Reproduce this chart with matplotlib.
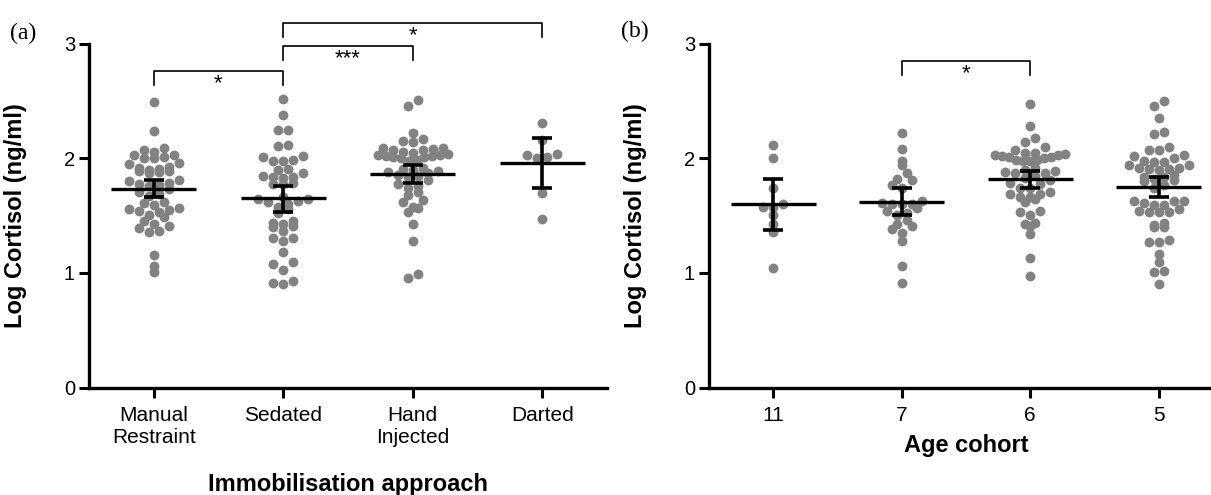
import matplotlib
matplotlib.use("Agg")
import matplotlib.pyplot as plt

# values (log cortisol, ng/ml)
approaches = ["Manual\nRestraint", "Sedated", "Hand\nInjected", "Darted"]
manual = [2.49, 2.24, 2.09, 2.07, 2.06, 2.03, 2.03, 2.01, 2.00, 2.00,
          1.96, 1.95, 1.93, 1.92, 1.91, 1.90, 1.89, 1.89, 1.88, 1.87,
          1.81, 1.80, 1.79, 1.78, 1.77, 1.76, 1.73, 1.71, 1.69, 1.67,
          1.62, 1.61, 1.59, 1.57, 1.56, 1.55, 1.54, 1.53, 1.51, 1.49,
          1.45, 1.43, 1.41, 1.39, 1.37, 1.36, 1.16, 1.06, 1.01]
sedated = [2.52, 2.38, 2.25, 2.25, 2.12, 2.11, 2.02, 2.01, 1.99, 1.98,
           1.98, 1.91, 1.90, 1.87, 1.85, 1.84, 1.84, 1.83, 1.79, 1.78,
           1.78, 1.66, 1.65, 1.65, 1.63, 1.62, 1.60, 1.58, 1.56, 1.52,
           1.45, 1.44, 1.43, 1.41, 1.40, 1.37, 1.31, 1.31, 1.28, 1.18,
           1.10, 1.08, 1.03, 0.93, 0.91, 0.90]
hand = [2.51, 2.46, 2.22, 2.17, 2.15, 2.14, 2.09, 2.09, 2.08, 2.07,
        2.07, 2.06, 2.05, 2.04, 2.03, 2.03, 2.02, 2.02, 2.01, 2.01,
        2.00, 1.99, 1.98, 1.92, 1.91, 1.90, 1.89, 1.88, 1.87, 1.86,
        1.85, 1.84, 1.81, 1.78, 1.76, 1.74, 1.71, 1.68, 1.64, 1.62,
        1.58, 1.57, 1.53, 1.43, 1.28, 0.99, 0.96]
darted = [2.31, 2.16, 2.03, 2.04, 2.00, 2.01, 1.70, 1.47]
approach_mean = [1.735, 1.655, 1.867, 1.964]
approach_lo = [1.66, 1.53, 1.79, 1.74]
approach_hi = [1.81, 1.76, 1.94, 2.18]
approach_sig = [(0, 1, "*"), (1, 2, "***"), (1, 3, "*")]

cohorts = ["11", "7", "6", "5"]
cohort11 = [2.12, 2.00, 1.74, 1.60, 1.58, 1.58, 1.51, 1.43, 1.36, 1.04]
cohort7 = [2.22, 2.08, 1.98, 1.94, 1.87, 1.82, 1.81, 1.77, 1.74, 1.63,
           1.61, 1.60, 1.60, 1.60, 1.57, 1.54, 1.52, 1.51, 1.46, 1.43,
           1.41, 1.38, 1.35, 1.28, 1.06, 0.91]
cohort6 = [2.48, 2.28, 2.18, 2.14, 2.10, 2.07, 2.05, 2.04, 2.03, 2.02,
           2.01, 2.00, 1.99, 1.98, 1.98, 1.99, 2.01, 2.03, 2.05, 1.92,
           1.90, 1.89, 1.88, 1.87, 1.87, 1.85, 1.83, 1.81, 1.79, 1.78,
           1.74, 1.74, 1.71, 1.69, 1.69, 1.66, 1.66, 1.65, 1.62, 1.54,
           1.53, 1.51, 1.44, 1.43, 1.41, 1.34, 1.13, 0.97]
cohort5 = [2.50, 2.46, 2.35, 2.23, 2.21, 2.10, 2.07, 2.07, 2.03, 2.02,
           2.00, 1.98, 1.97, 1.97, 1.94, 1.94, 1.92, 1.92, 1.91, 1.91,
           1.90, 1.86, 1.84, 1.84, 1.82, 1.81, 1.80, 1.77, 1.74, 1.63,
           1.63, 1.63, 1.61, 1.59, 1.59, 1.56, 1.54, 1.53, 1.53, 1.53,
           1.44, 1.42, 1.40, 1.40, 1.29, 1.27, 1.27, 1.17, 1.10, 1.02,
           1.01, 0.90]
cohort_mean = [1.600, 1.623, 1.818, 1.748]
cohort_lo = [1.376, 1.507, 1.739, 1.661]
cohort_hi = [1.821, 1.739, 1.891, 1.836]
cohort_sig = [(1, 2, "*")]

plt.rcParams["font.family"] = ["Liberation Sans", "DejaVu Sans"]
DOT = "#828282"


def swarmX(ax, pos, values, rowh=9.0, step=10.0, maxw=70.0):
    # Prism style scatter: points binned into rows, lowest value in the middle,
    # rows squeezed when they would get wider than maxw pixels
    x0 = ax.transData.transform((pos, 0))[0]
    unit = ax.transData.transform((pos + 1, 0))[0] - x0
    rows = {}
    for i, v in enumerate(values):
        y = ax.transData.transform((pos, v))[1]
        rows.setdefault(int(y // rowh), []).append(i)
    xs = [pos] * len(values)
    for members in rows.values():
        members.sort(key=lambda i: values[i])
        n = len(members)
        gap = step if n < 2 else min(step, maxw / (n - 1))
        slots = sorted([k - (n - 1) / 2 for k in range(n)], key=lambda s: (abs(s), s))
        for i, s in zip(members, slots):
            xs[i] = pos + s * gap / unit
    return xs


def drawPanel(ax, names, groups, means, lo, hi, xlabel):
    idx = list(range(len(names)))
    ax.set_xlim(-0.5, len(names) - 0.5)
    ax.set_ylim(0, 3)
    for i, vals in zip(idx, groups):
        ax.scatter(swarmX(ax, i, vals), vals, s=50, color=DOT, lw=0, zorder=1)
    for i in idx:
        ax.hlines(means[i], i - 0.33, i + 0.33, color="black", lw=2.4, zorder=3)
    yerr = [[m - l for m, l in zip(means, lo)], [h - m for m, h in zip(means, hi)]]
    ax.errorbar(idx, means, yerr=yerr, fmt="none", ecolor="black",
                elinewidth=2.6, capsize=7.5, capthick=2.6, zorder=3)

    ax.set_yticks([0, 1, 2, 3])
    ax.set_xticks(idx)
    ax.set_xticklabels(names, fontsize=15, linespacing=1.2)
    ax.tick_params(axis="y", labelsize=14.5, pad=3)
    ax.tick_params(axis="x", pad=6)
    ax.tick_params(direction="out", length=7, width=2.2)
    for side in ["top", "right"]:
        ax.spines[side].set_visible(False)
    for side in ["left", "bottom"]:
        ax.spines[side].set_linewidth(2.4)
    ax.set_ylabel("Log Cortisol (ng/ml)", fontsize=17, fontweight="bold")
    ax.set_xlabel(xlabel, fontsize=17, fontweight="bold")


def drawBracket(ax, left, right, label, top, drop=0.12):
    ax.plot([left, left, right, right], [top - drop, top, top, top - drop],
            color="black", lw=1.2, clip_on=False)
    ax.text((left + right) / 2, top - 0.11, label, ha="center", va="center",
            fontsize=16, clip_on=False)


fig = plt.figure(figsize=(12.11, 4.95), dpi=100)
axA = fig.add_axes([89 / 1211, 107.5 / 495, 518 / 1211, 343.5 / 495])
axB = fig.add_axes([709 / 1211, 107.5 / 495, 514 / 1211, 343.5 / 495])

drawPanel(axA, approaches, [manual, sedated, hand, darted],
          approach_mean, approach_lo, approach_hi, "Immobilisation approach")
drawPanel(axB, cohorts, [cohort11, cohort7, cohort6, cohort5],
          cohort_mean, cohort_lo, cohort_hi, "Age cohort")

axA.xaxis.set_label_coords(0.5, -0.25)
axB.xaxis.set_label_coords(0.5, -0.135)
axA.yaxis.set_label_coords(-0.12, 0.5)
axB.yaxis.set_label_coords(-0.12, 0.5)

levels = [2.76, 2.98, 3.18]
for (l, r, lab), top in zip(approach_sig, levels):
    drawBracket(axA, l, r, lab, top)
for l, r, lab in cohort_sig:
    drawBracket(axB, l, r, lab, 2.85)

fig.text(10 / 1211, 1 - 33 / 495, "(a)", family="Liberation Serif",
         fontsize=17, ha="left", va="center")
fig.text(621 / 1211, 1 - 31 / 495, "(b)", family="Liberation Serif",
         fontsize=17, ha="left", va="center")

fig.savefig("out.png", dpi=100)
